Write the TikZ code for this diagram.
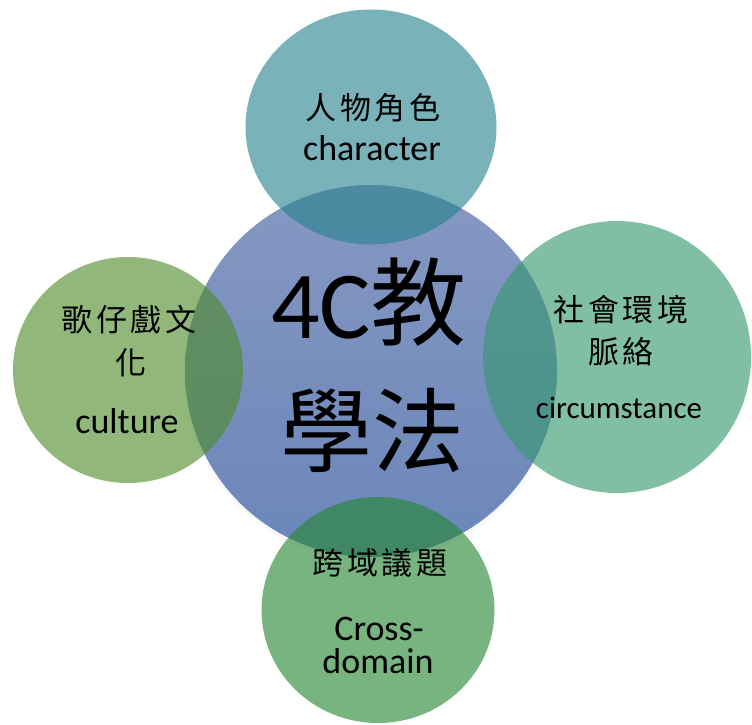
\documentclass[tikz,border=0pt]{standalone}
\usepackage{fontspec}
\setmainfont{Carlito}
\newfontfamily\cjk[LetterSpace=12]{Noto Sans CJK TC}
\newfontfamily\cjkbig{Noto Sans CJK TC}
\usetikzlibrary{shapes.geometric,shadows}
\definecolor{ctop}{RGB}{39,131,142}
\definecolor{cright}{RGB}{53,152,111}
\definecolor{cleft}{RGB}{79,140,42}
\definecolor{cbot}{RGB}{37,135,50}
\definecolor{btop}{RGB}{134,152,194}
\definecolor{bbot}{RGB}{106,134,185}
\tikzset{
  x=1pt, y=1pt,
  softshadow/.style={circular drop shadow={shadow scale=1.02, shadow xshift=0pt, shadow yshift=-2pt, opacity=0.3}},
  hubc/.style={circle, inner sep=0pt, minimum size=372pt, top color=btop, bottom color=bbot, draw=none, softshadow},
  satc/.style={ellipse, inner sep=0pt, draw=none, fill opacity=0.62},
  lat/.style={anchor=base, inner sep=0pt, font=\fontsize{36}{40}\selectfont},
  han/.style={anchor=center, inner sep=0pt, font=\fontsize{31}{36}\selectfont\cjk}
}
\begin{document}
\begin{tikzpicture}
\useasboundingbox (0,0) rectangle (752,-724);
\fill[white] (0,0) rectangle (752,-724);
% circles
\node[hubc] (hub) at (371,-371) {};
\node[satc, fill=ctop, minimum width=251pt, minimum height=235pt] (ctopc) at (371,-127) {};
\node[satc, fill=cright, minimum width=268pt, minimum height=272pt] (crightc) at (617,-357) {};
\node[satc, fill=cleft, minimum width=230pt, minimum height=226pt] (cleftc) at (128,-370) {};
\node[satc, fill=cbot, minimum width=233pt, minimum height=226pt] (cbotc) at (378,-610) {};
% centre text
\node[anchor=base, inner sep=0pt, font=\fontsize{96}{100}\selectfont] (t1) at (369,-338) {4C{\cjkbig 教}};
\node[anchor=center, inner sep=0pt, font=\fontsize{92}{100}\selectfont\cjkbig] (t2) at (372,-430) {學法};
% top
\node[han] (topcn) at (373,-108) {人物角色};
\node[lat] (topen) at (372,-160) {character};
% right
\node[han] (rcn1) at (621,-310) {社會環境};
\node[han] (rcn2) at (621,-352) {脈絡};
\node[lat, font=\fontsize{31}{36}\selectfont] (ren) at (619,-418) {circumstance};
% left
\node[han] (lcn1) at (129,-320) {歌仔戲文};
\node[han] (lcn2) at (131,-363) {化};
\node[lat] (len) at (127,-433) {culture};
% bottom
\node[han] (bcn) at (380,-563) {跨域議題};
\node[lat] (ben1) at (379,-640) {Cross-};
\node[lat] (ben2) at (378,-673) {domain};
\end{tikzpicture}
\end{document}
